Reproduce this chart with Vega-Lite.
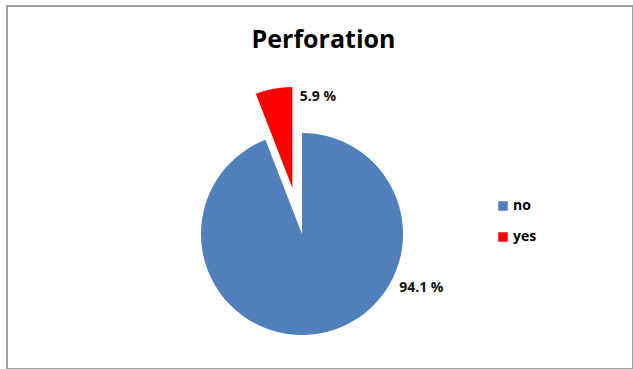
{
  "$schema": "https://vega.github.io/schema/vega-lite/v6.json",
  "autosize": "none",
  "width": 626,
  "height": 363,
  "padding": {"left": 7, "top": 6, "right": 0, "bottom": 0},
  "background": "white",
  "config": {
    "view": {"stroke": null},
    "text": {"font": "Open Sans"}
  },
  "data": {
    "values": [
      {"answer": "no", "percent": 94.1, "label": "94.1 %"},
      {"answer": "yes", "percent": 5.9, "label": "5.9 %"}
    ]
  },
  "layer": [
    {
      "mark": {"type": "rect", "fill": null, "stroke": "#a0a0a0", "strokeWidth": 2},
      "encoding": {}
    },
    {
      "data": {"values": [{"title": "Perforation"}]},
      "mark": {"type": "text", "x": 316.5, "y": 42, "baseline": "alphabetic", "align": "center", "fontSize": 25, "fontWeight": "bold", "fill": "#000000"},
      "encoding": {"text": {"field": "title"}}
    },
    {
      "mark": {"type": "arc", "outerRadius": 101, "x": 295, "y": 228},
      "encoding": {
        "theta": {"field": "percent", "type": "quantitative", "stack": true},
        "color": {
          "field": "answer",
          "type": "nominal",
          "scale": {"domain": ["no", "yes"], "range": ["#4F7FBD", "#FF0000"]},
          "legend": {
            "title": null,
            "orient": "none",
            "legendX": 489,
            "legendY": 193,
            "symbolType": "square",
            "symbolSize": 90,
            "symbolStrokeWidth": 0,
            "labelFont": "Open Sans",
            "labelFontSize": 14,
            "labelFontWeight": "bold",
            "labelColor": "#000000",
            "rowPadding": 17,
            "labelOffset": 3
          }
        },
        "fillOpacity": {
          "condition": {"test": "datum.answer === 'no'", "value": 1},
          "value": 0
        }
      }
    },
    {
      "mark": {"type": "arc", "outerRadius": 101, "x": 285.4, "y": 182},
      "encoding": {
        "theta": {"field": "percent", "type": "quantitative", "stack": true},
        "color": {"field": "answer", "type": "nominal"},
        "fillOpacity": {
          "condition": {"test": "datum.answer === 'yes'", "value": 1},
          "value": 0
        }
      }
    },
    {
      "mark": {"type": "text", "radius": 131, "thetaOffset": -1.33, "x": 295, "y": 228, "fontSize": 14, "fontWeight": "bold", "fill": "#111111"},
      "encoding": {
        "theta": {"field": "percent", "type": "quantitative", "stack": true},
        "text": {"field": "label"},
        "opacity": {
          "condition": {"test": "datum.answer === 'no'", "value": 1},
          "value": 0
        }
      }
    },
    {
      "mark": {"type": "text", "radius": 138, "thetaOffset": -0.07, "x": 295, "y": 228, "fontSize": 14, "fontWeight": "bold", "fill": "#111111"},
      "encoding": {
        "theta": {"field": "percent", "type": "quantitative", "stack": true},
        "text": {"field": "label"},
        "opacity": {
          "condition": {"test": "datum.answer === 'yes'", "value": 1},
          "value": 0
        }
      }
    }
  ]
}
